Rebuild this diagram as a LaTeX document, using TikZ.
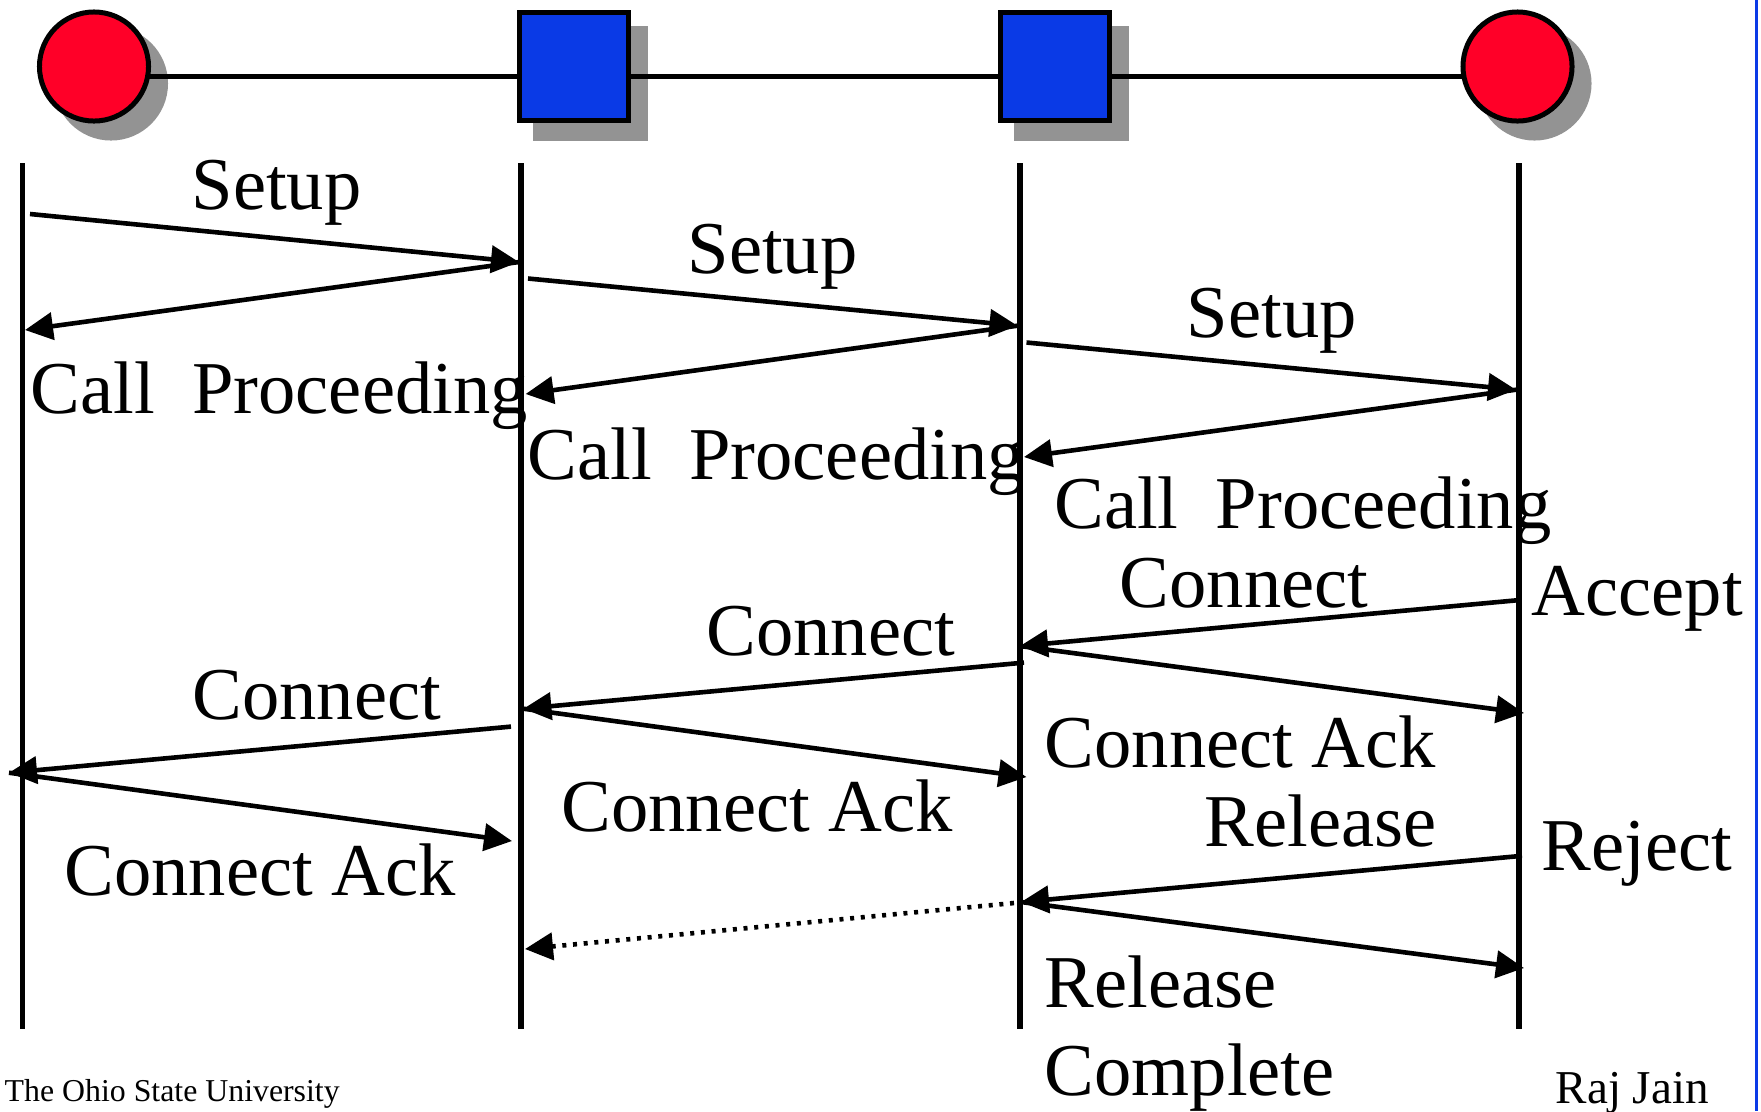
\documentclass[tikz,border=0pt]{standalone}
\usepackage{fontspec}
\setmainfont{Liberation Serif}
\usetikzlibrary{arrows.meta}
\definecolor{nodered}{RGB}{255,0,40}
\definecolor{nodeblue}{RGB}{10,58,230}
\definecolor{shadowgray}{RGB}{147,147,147}
\begin{document}
\begin{tikzpicture}[x=0.01cm,y=-0.01cm,
  lifeline/.style={line width=0.055cm},
  msg/.style={line width=0.046cm,-{Triangle[length=0.28cm,width=0.27cm]}},
  dotmsg/.style={msg,dash pattern=on 0.04cm off 0.067cm},
  lbl/.style={inner sep=0pt,anchor=base west,font=\fontsize{21.2}{25}\selectfont},
  endpt/.style={circle,draw,fill=nodered,line width=0.05cm,minimum size=1.09cm,inner sep=0pt},
  switch/.style={rectangle,draw,fill=nodeblue,line width=0.05cm,minimum width=1.09cm,minimum height=1.08cm,inner sep=0pt},
  shad/.style={fill=shadowgray,draw=none}]
\useasboundingbox (0,0) rectangle (1761,1111);
% right blue rule
\draw[nodeblue,line width=0.03cm] (1756,0) -- (1756,1111);
% shadows
\fill[shad] (111,83.5) circle (0.57cm);
\fill[shad] (1534.5,83.5) circle (0.57cm);
\fill[shad] (533,26) rectangle (648,141);
\fill[shad] (1014,26) rectangle (1129,141);
% top line
\draw[line width=0.05cm] (94,76) -- (1517.5,76);
% top nodes
\node[endpt] (e1) at (94,66.5) {};
\node[switch] (s1) at (574,66.5) {};
\node[switch] (s2) at (1055,66.5) {};
\node[endpt] (e2) at (1517.5,66.5) {};
% lifelines
\coordinate (l1t) at (22.5,163); \coordinate (l1b) at (22.5,1029);
\coordinate (l2t) at (521,163);  \coordinate (l2b) at (521,1029);
\coordinate (l3t) at (1020,163); \coordinate (l3b) at (1020,1029);
\coordinate (l4t) at (1519,163); \coordinate (l4b) at (1519,1029);
\draw[lifeline] (l1t) -- (l1b);
\draw[lifeline] (l2t) -- (l2b);
\draw[lifeline] (l3t) -- (l3b);
\draw[lifeline] (l4t) -- (l4b);
% endpoints of messages
\coordinate (a1s) at (30,214);    \coordinate (a1e) at (519,262);
\coordinate (a2e) at (25,330);
\coordinate (a3s) at (528,278.5); \coordinate (a3e) at (1017.5,325.7);
\coordinate (a4e) at (525.6,394);
\coordinate (a5s) at (1026.5,342.5); \coordinate (a5e) at (1516,389.7);
\coordinate (a6e) at (1024,457);
\coordinate (a7s) at (1520,600);  \coordinate (a7e) at (1020,646);
\coordinate (a8e) at (1524,713);
\coordinate (a9s) at (1024,662.6); \coordinate (a9e) at (523.4,708.7);
\coordinate (a10e) at (1026.5,777);
\coordinate (a11s) at (511,726.6); \coordinate (a11e) at (9,772.7);
\coordinate (a12e) at (512,841);
\coordinate (a13s) at (1522,855.8); \coordinate (a13e) at (1021,902);
\coordinate (a14e) at (1524,968);
\coordinate (a15s) at (1014,903); \coordinate (a15e) at (525,949);
% messages
\draw[msg] (a1s) -- (a1e);
\draw[msg] (a1e) -- (a2e);
\draw[msg] (a3s) -- (a3e);
\draw[msg] (a3e) -- (a4e);
\draw[msg] (a5s) -- (a5e);
\draw[msg] (a5e) -- (a6e);
\draw[msg] (a7s) -- (a7e);
\draw[msg] (a7e) -- (a8e);
\draw[msg] (a9s) -- (a9e);
\draw[msg] (a9e) -- (a10e);
\draw[msg] (a11s) -- (a11e);
\draw[msg] (a11e) -- (a12e);
\draw[msg] (a13s) -- (a13e);
\draw[msg] (a13e) -- (a14e);
\draw[dotmsg] (a15s) -- (a15e);
% labels
\node[lbl] (t1) at (191,209) {Setup};
\node[lbl] (t2) at (30,413) {Call\ \ Proceeding};
\node[lbl] (t3) at (687,273) {Setup};
\node[lbl] (t4) at (527,479.5) {Call\ \ Proceeding};
\node[lbl] (t5) at (1186,337) {Setup};
\node[lbl] (t6) at (1053.6,528) {Call\ \ Proceeding};
\node[lbl] (t7) at (1119,607) {Connect};
\node[lbl] (t8) at (1531,615) {Accept};
\node[lbl] (t9) at (706,655) {Connect};
\node[lbl] (t10) at (192,719) {Connect};
\node[lbl] (t11) at (1044,767) {Connect Ack};
\node[lbl] (t12) at (1204,846) {Release};
\node[lbl] (t13) at (1541,870) {Reject};
\node[lbl] (t14) at (561,831) {Connect Ack};
\node[lbl] (t15) at (64,895) {Connect Ack};
\node[lbl] (t16) at (1044,1007.4) {Release};
\node[lbl] (t17) at (1044,1095) {Complete};
\node[inner sep=0pt,anchor=base west,font=\fontsize{9.05}{11}\selectfont] (f1) at (4,1101.8) {The Ohio State University};
\node[inner sep=0pt,anchor=base west,font=\fontsize{13.4}{16}\selectfont] (f2) at (1555,1103) {Raj Jain};
\end{tikzpicture}
\end{document}
